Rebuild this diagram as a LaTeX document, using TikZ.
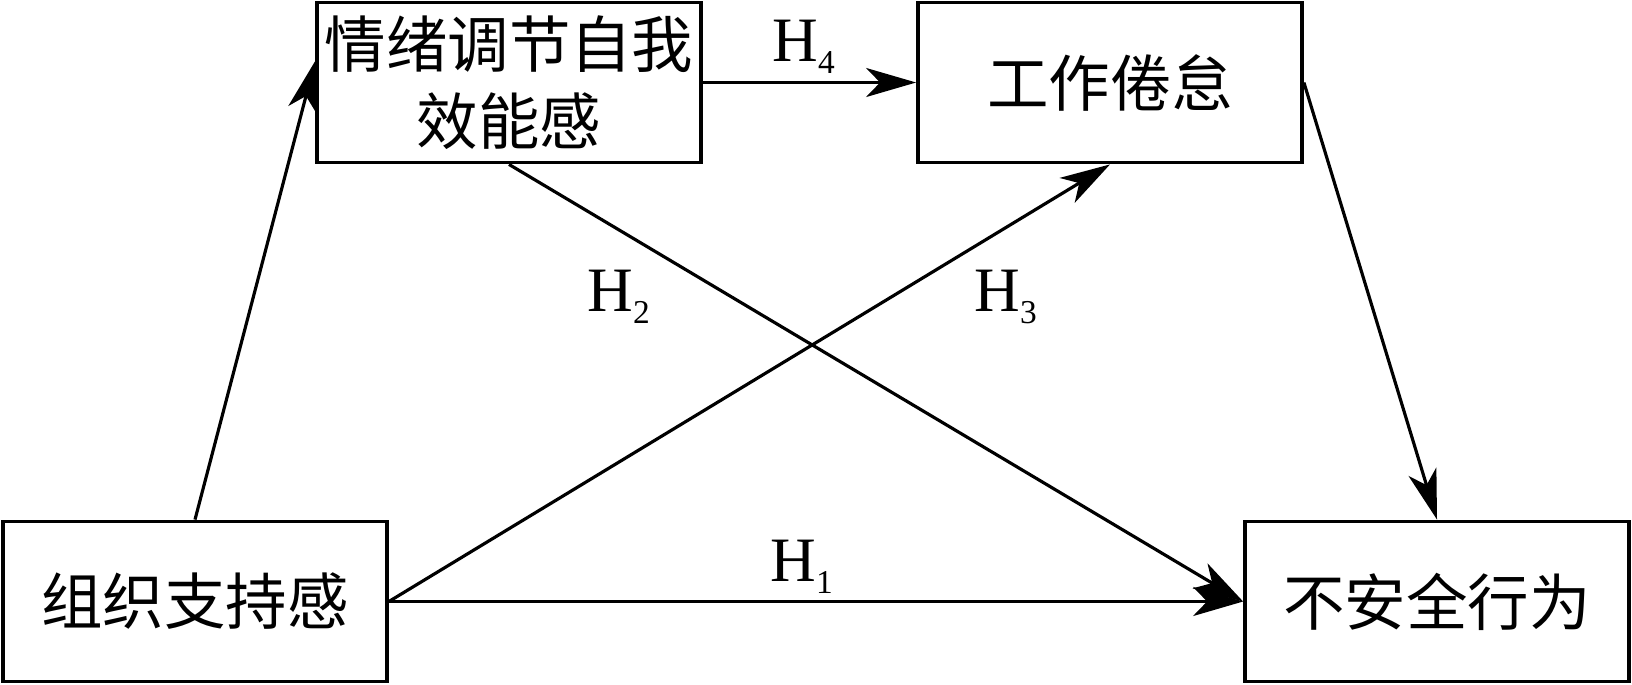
\documentclass[tikz,border=0pt]{standalone}
\usepackage{fontspec}
\setmainfont{Liberation Serif}
\newfontfamily\cjk{Noto Sans CJK SC}
\usetikzlibrary{arrows.meta,calc}
\newcommand{\hyp}[1]{H\raisebox{-0.24cm}{\fontsize{19}{19}\selectfont #1}}

\begin{document}
\begin{tikzpicture}[x=0.02cm,y=-0.02cm,
    box/.style={draw,line width=2.2pt,minimum width=7.68cm,minimum height=3.2cm,
        inner sep=1pt,align=center,font=\cjk\fontsize{35}{44}\selectfont},
    link/.style={line width=1.8pt,-{Stealth[length=1cm,width=0.58cm,inset=0.28cm]}},
    hlabel/.style={anchor=base west,inner sep=0pt,font=\fontsize{36}{36}\selectfont}]
    \useasboundingbox (0,0) rectangle (1632,684);
    % variables
    \node[box] (emo) at (509,82.5) {情绪调节自我\\效能感};
    \node[box] (burn) at (1110,82.5) {工作倦怠};
    \node[box] (sup) at (195,601.5) {组织支持感};
    \node[box] (unsafe) at (1437,601.5) {不安全行为};
    % paths
    \draw[link] (sup.north) -- ($(emo.north west)!0.37!(emo.south west)$);
    \draw[link] (emo.east) -- (burn.west);
    \draw[link] (emo.south) -- (unsafe.west);
    \draw[link] (sup.east) -- (burn.south);
    \draw[link] (sup.east) -- (unsafe.west);
    \draw[link] (burn.east) -- (unsafe.north);
    % hypotheses
    \node[hlabel] (h4) at (772,61) {\hyp{4}};
    \node[hlabel] (h2) at (587,311) {\hyp{2}};
    \node[hlabel] (h3) at (974,311) {\hyp{3}};
    \node[hlabel] (h1) at (770,581) {\hyp{1}};
\end{tikzpicture}
\end{document}
